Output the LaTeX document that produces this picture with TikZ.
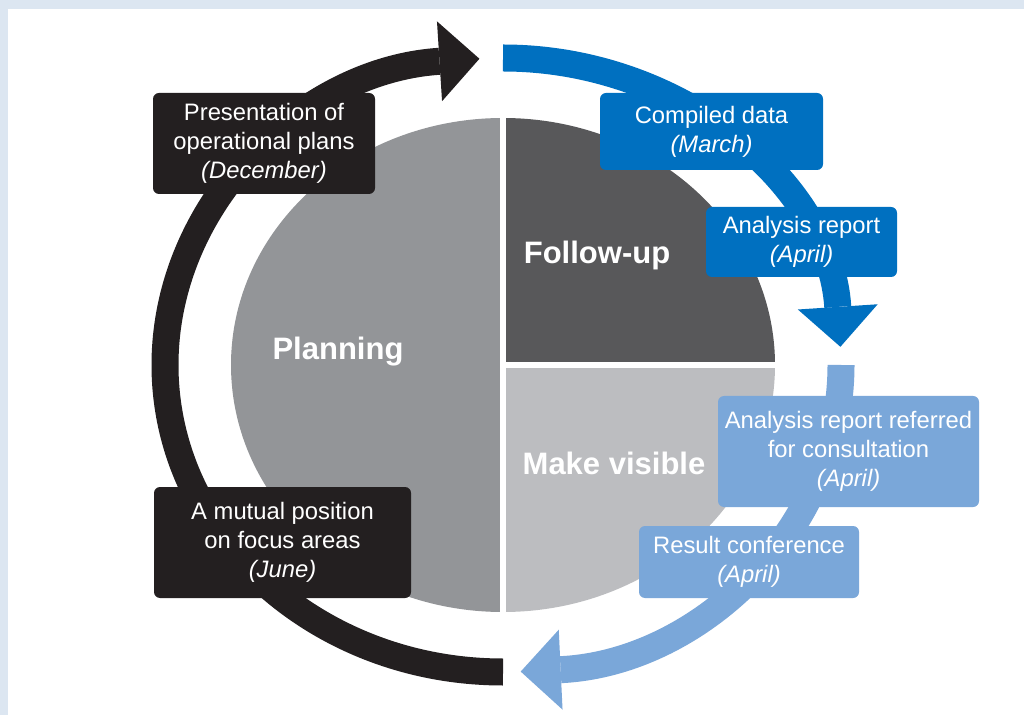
\documentclass[tikz,border=0pt]{standalone}
\usepackage{fontspec}
\setmainfont{Liberation Sans}
\usetikzlibrary{arrows.meta,calc}
\definecolor{framebg}{RGB}{220,230,241}
\definecolor{inkblack}{RGB}{35,31,32}
\definecolor{deepblue}{RGB}{0,112,192}
\definecolor{paleblue}{RGB}{122,167,217}
\definecolor{planfill}{RGB}{147,149,152}
\definecolor{followfill}{RGB}{88,88,90}
\definecolor{visfill}{RGB}{188,189,192}

\begin{document}
\begin{tikzpicture}[x=1pt,y=1pt,
  box/.style={rounded corners=6pt,align=center,text=white,inner sep=0pt,font=\fontsize{23.8}{29}\selectfont},
  phase/.style={text=white,font=\fontsize{31}{36}\selectfont\bfseries},
  band/.style={line width=27pt},
  tip/.style={-{Triangle[length=40pt,width=80pt,line width=0pt]}}]
% frame
\fill[framebg] (0,0) rectangle (1024,715);
\fill[white] (8,0) rectangle (1024,706);
\useasboundingbox (0,0) rectangle (1024,715);
\coordinate (c) at (503,350);
% disc in three parts
\fill[planfill] ($(c)+(0,247)$) arc[start angle=90,end angle=270,x radius=272,y radius=247] -- cycle;
\fill[followfill] (c) -- ++(0,247) arc[start angle=90,end angle=0,x radius=272,y radius=247] -- cycle;
\fill[visfill] (c) -- ++(272,0) arc[start angle=0,end angle=-90,x radius=272,y radius=247] -- cycle;
\draw[white,line width=6pt] ($(c)+(0,252)$) -- ($(c)+(0,-252)$);
\draw[white,line width=6pt] (c) -- ++(276,0);
% cycle arrows
\draw[band,inkblack,tip] ($(c)+(270:338 and 307)$) arc[start angle=270,end angle=94,x radius=338,y radius=307];
\draw[band,deepblue,tip] ($(c)+(90:338 and 307)$) arc[start angle=90,end angle=3.4,x radius=338,y radius=307];
\draw[band,paleblue,tip] ($(c)+(0:338 and 307)$) arc[start angle=0,end angle=-87,x radius=338,y radius=307];
% phases
\node[phase] (plan) at (338,363) {Planning};
\node[phase] (follow) at (597,460) {Follow-up};
\node[phase] (show) at (614,252) {Make visible};
% milestones
\node[box,fill=inkblack,minimum width=222pt,minimum height=101pt] (plans) at (264,571.5) {Presentation of\\operational plans\\\textit{(December)}};
\node[box,fill=inkblack,minimum width=257pt,minimum height=111pt] (focus) at (282.5,172.5) {A mutual position\\on focus areas\\\textit{(June)}};
\node[box,fill=deepblue,minimum width=223pt,minimum height=77pt] (data) at (711.5,583.5) {Compiled data\\\textit{(March)}};
\node[box,fill=deepblue,minimum width=191pt,minimum height=70pt] (report) at (801.5,473) {Analysis report\\\textit{(April)}};
\node[box,fill=paleblue,minimum width=261pt,minimum height=111pt] (consult) at (848.5,263.5) {Analysis report referred\\for consultation\\\textit{(April)}};
\node[box,fill=paleblue,minimum width=220pt,minimum height=72pt] (conf) at (749,153) {Result conference\\\textit{(April)}};
\end{tikzpicture}
\end{document}
